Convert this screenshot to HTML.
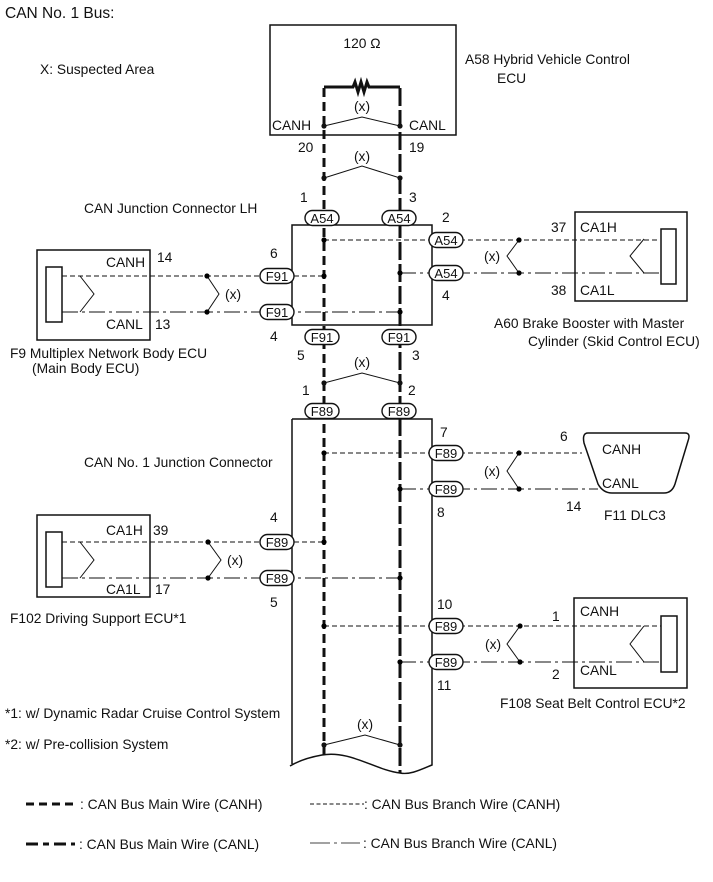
<!DOCTYPE html>
<html><head><meta charset="utf-8"><style>
html,body{margin:0;padding:0;background:#fff;}
svg{display:block;}
text{font-family:"Liberation Sans",Arial,sans-serif;font-size:13.8px;fill:#111;}
text.p{font-size:13px;}
.pill{fill:#fff;stroke:#111;stroke-width:1.4;}
</style></head><body>
<svg width="713" height="882" viewBox="0 0 713 882" xmlns="http://www.w3.org/2000/svg">
<defs>
<g id="pill"><rect x="-17" y="-7.5" width="34" height="15" rx="7.5" class="pill"/></g>
</defs>
<text x="5" y="18" style="font-size:15.5px">CAN No. 1 Bus:</text>
<text x="40" y="74">X: Suspected Area</text>
<text x="465" y="64">A58  Hybrid Vehicle Control</text>
<text x="497" y="83">ECU</text>

<rect x="270" y="25" width="186" height="110" fill="none" stroke="#111" stroke-width="1.5"/>
<text x="362" y="48" text-anchor="middle">120 Ω</text>
<polyline points="324,87 353,87 355,82 358,92 361,82 364,92 367,82 369,87 400,87" fill="none" stroke="#111" stroke-width="3"/>
<text x="272" y="130">CANH</text>
<text x="409" y="130">CANL</text>
<text x="298" y="152">20</text>
<text x="409" y="152">19</text>

<line x1="324" y1="88" x2="324" y2="758" stroke="#111" stroke-width="3" stroke-dasharray="9 5"/>
<line x1="400" y1="88" x2="400" y2="773" stroke="#111" stroke-width="3" stroke-dasharray="18 4"/>

<g fill="none" stroke="#111" stroke-width="1">
<polyline points="324,126 362,117 400,126"/>
<polyline points="324,178 362,166 400,178"/>
<polyline points="324,383 362,373 400,383"/>
<polyline points="324,745 365,735 400,745"/>
</g>
<g fill="#111">
<circle cx="324" cy="126" r="2.6"/><circle cx="400" cy="126" r="2.6"/>
<circle cx="324" cy="178" r="2.6"/><circle cx="400" cy="178" r="2.6"/>
<circle cx="324" cy="383" r="2.6"/><circle cx="400" cy="383" r="2.6"/>
<circle cx="324" cy="745" r="2.6"/><circle cx="400" cy="745" r="2.6"/>
</g>
<text x="362" y="111" text-anchor="middle">(x)</text>
<text x="362" y="161" text-anchor="middle">(x)</text>
<text x="362" y="367" text-anchor="middle">(x)</text>
<text x="365" y="729" text-anchor="middle">(x)</text>
<text x="300" y="202">1</text>
<text x="409" y="202">3</text>

<text x="84" y="213">CAN Junction Connector LH</text>
<rect x="292" y="225" width="140" height="100" fill="none" stroke="#111" stroke-width="1.5"/>
<use href="#pill" x="322" y="218"/><text class="p" x="322" y="223" text-anchor="middle">A54</text>
<use href="#pill" x="399" y="218"/><text class="p" x="399" y="223" text-anchor="middle">A54</text>

<line x1="324" y1="240" x2="660" y2="240" stroke="#111" stroke-width="1" stroke-dasharray="5 3"/>
<line x1="400" y1="273" x2="660" y2="273" stroke="#111" stroke-width="1" stroke-dasharray="16 4 3 4"/>
<use href="#pill" x="446" y="240"/><text class="p" x="446" y="245" text-anchor="middle">A54</text>
<use href="#pill" x="446" y="273"/><text class="p" x="446" y="278" text-anchor="middle">A54</text>
<text x="442" y="222">2</text><text x="442" y="300">4</text>
<polyline points="519,240 507,256 519,273" fill="none" stroke="#111" stroke-width="1"/>
<circle cx="519" cy="240" r="2.6"/><circle cx="519" cy="273" r="2.6"/>
<circle cx="324" cy="240" r="2.6"/><circle cx="400" cy="273" r="2.6"/>
<text x="484" y="261">(x)</text>
<rect x="575" y="212" width="112" height="89" fill="none" stroke="#111" stroke-width="1.5"/>
<rect x="661" y="229" width="15" height="55" fill="#fff" stroke="#111" stroke-width="1.5"/>
<polyline points="644,239 630,256 644,273" fill="none" stroke="#111" stroke-width="1"/>
<text x="551" y="232">37</text><text x="551" y="295">38</text>
<text x="580" y="232">CA1H</text><text x="580" y="295">CA1L</text>
<text x="494" y="328">A60  Brake Booster with Master</text>
<text x="528" y="346">Cylinder (Skid Control ECU)</text>

<rect x="37" y="250" width="113" height="90" fill="none" stroke="#111" stroke-width="1.5"/>
<rect x="46" y="267" width="16" height="55" fill="#fff" stroke="#111" stroke-width="1.5"/>
<line x1="62" y1="276" x2="324" y2="276" stroke="#111" stroke-width="1" stroke-dasharray="5 3"/>
<line x1="62" y1="312" x2="400" y2="312" stroke="#111" stroke-width="1" stroke-dasharray="16 4 3 4"/>
<polyline points="80,276 94,294 80,312" fill="none" stroke="#111" stroke-width="1"/>
<polyline points="207,276 219,294 207,312" fill="none" stroke="#111" stroke-width="1"/>
<circle cx="207" cy="276" r="2.6"/><circle cx="207" cy="312" r="2.6"/>
<circle cx="324" cy="276" r="2.6"/><circle cx="400" cy="312" r="2.6"/>
<text x="225" y="299">(x)</text>
<use href="#pill" x="277" y="276"/><text class="p" x="277" y="281" text-anchor="middle">F91</text>
<use href="#pill" x="277" y="312"/><text class="p" x="277" y="317" text-anchor="middle">F91</text>
<text x="270" y="258">6</text><text x="270" y="341">4</text>
<text x="106" y="267">CANH</text><text x="157" y="262">14</text>
<text x="106" y="329">CANL</text><text x="155" y="329">13</text>
<text x="10" y="358">F9  Multiplex Network Body ECU</text>
<text x="32" y="373">(Main Body ECU)</text>
<use href="#pill" x="322" y="337"/><text class="p" x="322" y="342" text-anchor="middle">F91</text>
<use href="#pill" x="399" y="337"/><text class="p" x="399" y="342" text-anchor="middle">F91</text>
<text x="297" y="360">5</text><text x="412" y="360">3</text>
<text x="302" y="395">1</text><text x="408" y="395">2</text>

<path d="M292,419 H432 V765 C420,770 410,775 400,773 C375,770 350,750 322,755 C305,758 295,763 290,766 M292,419 V764" fill="none" stroke="#111" stroke-width="1.5"/>
<use href="#pill" x="322" y="411"/><text class="p" x="322" y="416" text-anchor="middle">F89</text>
<use href="#pill" x="399" y="411"/><text class="p" x="399" y="416" text-anchor="middle">F89</text>
<text x="84" y="467">CAN No. 1 Junction Connector</text>

<line x1="324" y1="453" x2="582" y2="453" stroke="#111" stroke-width="1" stroke-dasharray="5 3"/>
<line x1="400" y1="489" x2="598" y2="489" stroke="#111" stroke-width="1" stroke-dasharray="16 4 3 4"/>
<circle cx="324" cy="453" r="2.6"/><circle cx="400" cy="489" r="2.6"/>
<use href="#pill" x="446" y="453"/><text class="p" x="446" y="458" text-anchor="middle">F89</text>
<use href="#pill" x="446" y="489"/><text class="p" x="446" y="494" text-anchor="middle">F89</text>
<text x="440" y="437">7</text><text x="437" y="517">8</text>
<polyline points="519,453 507,471 519,489" fill="none" stroke="#111" stroke-width="1"/>
<circle cx="519" cy="453" r="2.6"/><circle cx="519" cy="489" r="2.6"/>
<text x="484" y="476">(x)</text>
<path d="M588,433 H685 Q691,433 688,441 L675,484 Q672,493 664,493 H612 Q603,493 598,484 L584,443 Q582,433 588,433 Z" fill="#fff" stroke="#111" stroke-width="1.5"/>
<text x="602" y="454">CANH</text><text x="602" y="488">CANL</text>
<text x="560" y="441">6</text><text x="566" y="511">14</text>
<text x="604" y="520">F11  DLC3</text>

<rect x="37" y="515" width="113" height="82" fill="none" stroke="#111" stroke-width="1.5"/>
<rect x="46" y="532" width="16" height="55" fill="#fff" stroke="#111" stroke-width="1.5"/>
<line x1="62" y1="542" x2="324" y2="542" stroke="#111" stroke-width="1" stroke-dasharray="5 3"/>
<line x1="62" y1="578" x2="400" y2="578" stroke="#111" stroke-width="1" stroke-dasharray="16 4 3 4"/>
<polyline points="80,542 94,560 80,578" fill="none" stroke="#111" stroke-width="1"/>
<polyline points="208,542 221,560 208,578" fill="none" stroke="#111" stroke-width="1"/>
<circle cx="208" cy="542" r="2.6"/><circle cx="208" cy="578" r="2.6"/>
<circle cx="324" cy="542" r="2.6"/><circle cx="400" cy="578" r="2.6"/>
<text x="227" y="565">(x)</text>
<use href="#pill" x="277" y="542"/><text class="p" x="277" y="547" text-anchor="middle">F89</text>
<use href="#pill" x="277" y="578"/><text class="p" x="277" y="583" text-anchor="middle">F89</text>
<text x="270" y="522">4</text><text x="270" y="607">5</text>
<text x="106" y="535">CA1H</text><text x="153" y="535">39</text>
<text x="106" y="594">CA1L</text><text x="155" y="594">17</text>
<text x="10" y="623">F102  Driving Support ECU*1</text>

<line x1="324" y1="626" x2="661" y2="626" stroke="#111" stroke-width="1" stroke-dasharray="5 3"/>
<line x1="400" y1="662" x2="661" y2="662" stroke="#111" stroke-width="1" stroke-dasharray="16 4 3 4"/>
<circle cx="324" cy="626" r="2.6"/><circle cx="400" cy="662" r="2.6"/>
<use href="#pill" x="446" y="626"/><text class="p" x="446" y="631" text-anchor="middle">F89</text>
<use href="#pill" x="446" y="662"/><text class="p" x="446" y="667" text-anchor="middle">F89</text>
<text x="437" y="609">10</text><text x="437" y="690">11</text>
<polyline points="520,626 507,644 520,662" fill="none" stroke="#111" stroke-width="1"/>
<circle cx="520" cy="626" r="2.6"/><circle cx="520" cy="662" r="2.6"/>
<text x="485" y="649">(x)</text>
<rect x="574" y="598" width="113" height="90" fill="none" stroke="#111" stroke-width="1.5"/>
<rect x="661" y="616" width="16" height="56" fill="#fff" stroke="#111" stroke-width="1.5"/>
<polyline points="644,626 630,644 644,662" fill="none" stroke="#111" stroke-width="1"/>
<text x="580" y="616">CANH</text><text x="580" y="675">CANL</text>
<text x="552" y="621">1</text><text x="552" y="679">2</text>
<text x="500" y="708">F108 Seat Belt Control ECU*2</text>

<text x="5" y="718">*1: w/ Dynamic Radar Cruise Control System</text>
<text x="5" y="749">*2: w/ Pre-collision System</text>

<line x1="26" y1="804" x2="75" y2="804" stroke="#111" stroke-width="3" stroke-dasharray="8 5"/>
<text x="80" y="809">: CAN Bus Main Wire (CANH)</text>
<line x1="310" y1="804" x2="364" y2="804" stroke="#111" stroke-width="1" stroke-dasharray="4 2.5"/>
<text x="364" y="809">: CAN Bus Branch Wire (CANH)</text>
<line x1="26" y1="844" x2="75" y2="844" stroke="#111" stroke-width="3" stroke-dasharray="12 5 6 5"/>
<text x="79" y="849">: CAN Bus Main Wire (CANL)</text>
<line x1="310" y1="843" x2="360" y2="843" stroke="#444" stroke-width="1" stroke-dasharray="20 4 3 4"/>
<text x="363" y="848">: CAN Bus Branch Wire (CANL)</text>
</svg>
</body></html>
